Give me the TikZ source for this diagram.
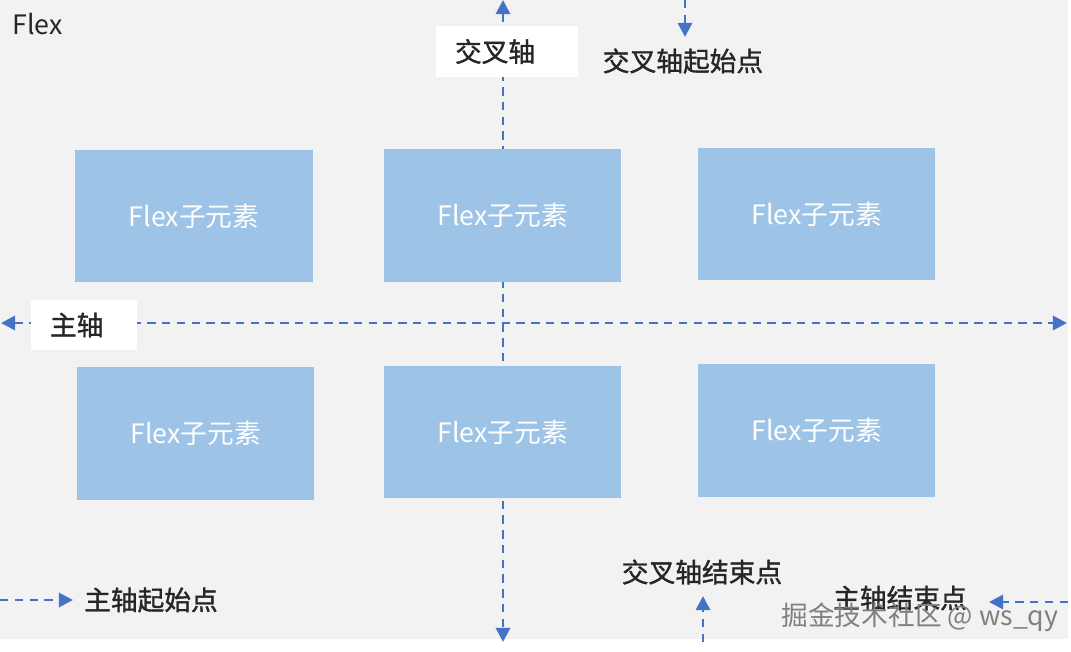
\documentclass[tikz,border=0pt]{standalone}
\usepackage{fontspec}
\setmainfont{Noto Sans CJK SC}
\newfontfamily\lblfont[FakeBold=1.3]{Noto Sans CJK SC}
\usetikzlibrary{arrows.meta}
\definecolor{bggray}{HTML}{F2F2F2}
\definecolor{itemblue}{HTML}{9DC3E6}
\definecolor{axisblue}{HTML}{4472C4}
\begin{document}
\begin{tikzpicture}[x=0.025cm, y=-0.025cm,
    >={Triangle[length=10pt, width=10pt]},
    axis/.style={draw=axisblue, line width=2pt, dash pattern=on 6pt off 4.5pt},
    item/.style={fill=itemblue, text=white, minimum width=5.925cm, minimum height=3.3cm, inner sep=0pt, font=\fontsize{19}{22}\selectfont},
    lbl/.style={text=black!85, inner sep=0pt, font=\lblfont\fontsize{19}{22}\selectfont},
    tag/.style={lbl, fill=white, align=left, inner xsep=0.475cm, minimum height=1.25cm}]
    \useasboundingbox (0,0) rectangle (1071,651);
    \fill[bggray] (0,0) rectangle (1068,639);
    % axes
    \coordinate (crossT) at (503,0);
    \coordinate (crossB) at (503,642);
    \coordinate (mainL) at (1,323);
    \coordinate (mainR) at (1067,323);
    \draw [axis, <->] (crossT) -- (crossB);
    \draw [axis, <->] (mainL) -- (mainR);
    % start and end points
    \coordinate (csTop) at (685,0);
    \coordinate (csTip) at (685,37);
    \coordinate (ceBot) at (703,642);
    \coordinate (ceTip) at (703,596);
    \coordinate (msLeft) at (0,600);
    \coordinate (msTip) at (73,600);
    \coordinate (meRight) at (1068,602);
    \coordinate (meTip) at (989,602);
    \draw [axis, ->] (csTop) -- (csTip);
    \draw [axis, ->] (ceBot) -- (ceTip);
    \draw [axis, ->] (msLeft) -- (msTip);
    \draw [axis, ->] (meRight) -- (meTip);
    % child items
    \node[item] (i11) at (194,216) {Flex子元素};
    \node[item] (i12) at (502.5,215.5) {Flex子元素};
    \node[item] (i13) at (816.5,214) {Flex子元素};
    \node[item] (i21) at (195.5,433.5) {Flex子元素};
    \node[item] (i22) at (502.5,432) {Flex子元素};
    \node[item] (i23) at (816.5,430.5) {Flex子元素};
    % labels
    \node[lbl, anchor=west, font=\fontsize{19}{22}\selectfont] (flex) at (12,24) {Flex};
    \node[tag, text width=2.6cm] (crossLbl) at (507,51.5) {交叉轴};
    \node[tag, text width=1.7cm] (mainLbl) at (84,325) {主轴};
    \node[lbl] (csLbl) at (683,61) {交叉轴起始点};
    \node[lbl] (ceLbl) at (702,572) {交叉轴结束点};
    \node[lbl] (msLbl) at (151,600) {主轴起始点};
    \node[lbl] (meLbl) at (900,598) {主轴结束点};
    \node[lbl, text=black!50, font=\fontsize{19}{22}\selectfont] (mark) at (920,617) {掘金技术社区 @ ws\_qy};
\end{tikzpicture}
\end{document}
